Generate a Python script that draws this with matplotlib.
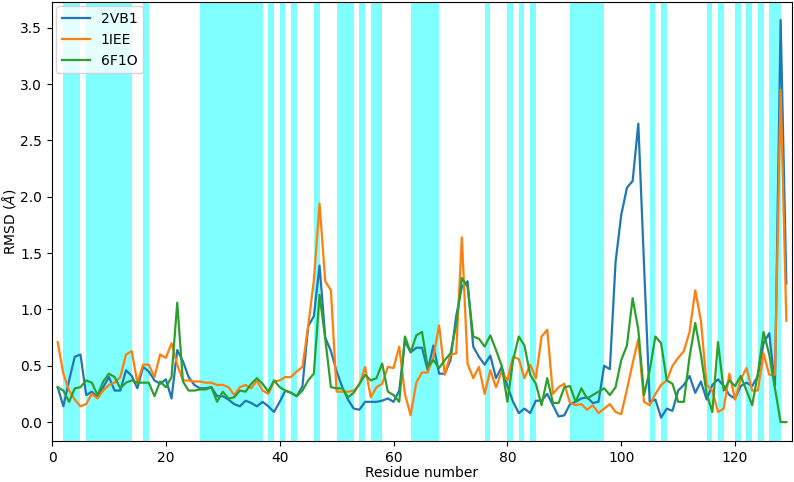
import numpy as np
import matplotlib
matplotlib.use('Agg')
import matplotlib.pyplot as plt

# RMSD per residue
residues = np.arange(1, 130)

rmsd_2vb1 = [0.31, 0.14, 0.37, 0.58, 0.60, 0.24, 0.27, 0.22, 0.31, 0.40,
             0.28, 0.28, 0.46, 0.41, 0.30, 0.49, 0.45, 0.37, 0.34, 0.38,
             0.21, 0.64, 0.54, 0.40, 0.33, 0.30, 0.30, 0.31, 0.23, 0.23,
             0.20, 0.16, 0.14, 0.19, 0.17, 0.14, 0.18, 0.14, 0.09, 0.18,
             0.28, 0.26, 0.23, 0.32, 0.85, 0.94, 1.39, 0.75, 0.63, 0.45,
             0.31, 0.20, 0.12, 0.11, 0.18, 0.18, 0.18, 0.19, 0.21, 0.18,
             0.28, 0.72, 0.62, 0.66, 0.66, 0.46, 0.68, 0.43, 0.43, 0.55,
             0.94, 1.20, 1.25, 0.67, 0.58, 0.51, 0.59, 0.39, 0.49, 0.32,
             0.18, 0.08, 0.12, 0.08, 0.19, 0.19, 0.25, 0.15, 0.05, 0.06,
             0.16, 0.18, 0.21, 0.22, 0.17, 0.18, 0.50, 0.47, 1.42, 1.84,
             2.08, 2.14, 2.65, 1.40, 0.18, 0.20, 0.04, 0.12, 0.10, 0.28,
             0.33, 0.41, 0.26, 0.36, 0.20, 0.33, 0.38, 0.32, 0.24, 0.21,
             0.32, 0.35, 0.32, 0.41, 0.70, 0.79, 0.32, 3.57, 1.23]

rmsd_1iee = [0.71, 0.43, 0.28, 0.20, 0.14, 0.16, 0.25, 0.21, 0.28, 0.33,
             0.35, 0.40, 0.60, 0.63, 0.35, 0.51, 0.51, 0.40, 0.60, 0.57,
             0.70, 0.51, 0.37, 0.37, 0.36, 0.36, 0.35, 0.35, 0.33, 0.33,
             0.31, 0.24, 0.31, 0.33, 0.30, 0.37, 0.28, 0.25, 0.36, 0.37,
             0.40, 0.40, 0.45, 0.49, 0.85, 1.26, 1.94, 1.25, 1.17, 0.27,
             0.27, 0.27, 0.28, 0.33, 0.49, 0.22, 0.31, 0.34, 0.49, 0.48,
             0.67, 0.25, 0.06, 0.35, 0.44, 0.44, 0.58, 0.86, 0.42, 0.60,
             0.61, 1.64, 0.52, 0.39, 0.49, 0.25, 0.46, 0.31, 0.45, 0.37,
             0.58, 0.56, 0.39, 0.51, 0.39, 0.76, 0.82, 0.25, 0.31, 0.34,
             0.17, 0.15, 0.16, 0.11, 0.15, 0.08, 0.12, 0.16, 0.09, 0.07,
             0.29, 0.52, 0.74, 0.18, 0.15, 0.25, 0.33, 0.37, 0.50, 0.57,
             0.63, 0.80, 1.17, 0.90, 0.33, 0.28, 0.09, 0.12, 0.43, 0.20,
             0.38, 0.48, 0.28, 0.28, 0.61, 0.42, 0.42, 2.95, 0.90]

rmsd_6f1o = [0.31, 0.28, 0.18, 0.30, 0.31, 0.37, 0.35, 0.24, 0.36, 0.43,
             0.40, 0.30, 0.35, 0.37, 0.35, 0.35, 0.35, 0.23, 0.36, 0.31,
             0.40, 1.06, 0.36, 0.28, 0.28, 0.29, 0.29, 0.31, 0.18, 0.27,
             0.21, 0.22, 0.28, 0.27, 0.34, 0.39, 0.34, 0.27, 0.37, 0.31,
             0.28, 0.26, 0.23, 0.28, 0.37, 0.43, 1.13, 0.74, 0.31, 0.30,
             0.30, 0.22, 0.26, 0.34, 0.42, 0.37, 0.39, 0.52, 0.27, 0.24,
             0.18, 0.76, 0.62, 0.77, 0.80, 0.49, 0.55, 0.48, 0.55, 0.61,
             0.86, 1.28, 1.20, 0.76, 0.74, 0.67, 0.77, 0.64, 0.50, 0.18,
             0.55, 0.76, 0.68, 0.42, 0.34, 0.15, 0.39, 0.17, 0.17, 0.31,
             0.32, 0.18, 0.30, 0.21, 0.24, 0.27, 0.30, 0.24, 0.31, 0.55,
             0.68, 1.10, 0.82, 0.24, 0.46, 0.76, 0.70, 0.37, 0.34, 0.18,
             0.18, 0.58, 0.88, 0.60, 0.25, 0.09, 0.71, 0.28, 0.37, 0.32,
             0.41, 0.28, 0.15, 0.43, 0.80, 0.60, 0.30, 0.00, 0.00]

# highlighted residue ranges
span_start = [2, 6, 16, 26, 38, 40, 42, 46, 50, 54, 56, 63, 76, 80, 82, 84,
              91, 105, 107, 115, 117, 120, 122, 124, 126]
span_end = [5, 14, 17, 37, 39, 41, 43, 47, 53, 55, 58, 68, 77, 81, 83, 85,
            97, 106, 108, 116, 118, 121, 123, 125, 128]

fig = plt.figure(figsize=(7.94, 4.82), dpi=100)
ax = fig.add_axes([0.0655, 0.085, 0.932, 0.911])

for s, e in zip(span_start, span_end):
    ax.axvspan(s, e, color='cyan', alpha=0.5, lw=0)

ax.plot(residues, rmsd_2vb1, label='2VB1', lw=1.6)
ax.plot(residues, rmsd_1iee, label='1IEE', lw=1.6)
ax.plot(residues, rmsd_6f1o, label='6F1O', lw=1.6)

ax.set_xlim(0, 130)
ax.set_ylim(-0.168, 3.73)
ax.set_xlabel('Residue number', labelpad=1)
ax.set_ylabel(r'RMSD ($\AA$)', labelpad=2)
ax.legend(loc='upper left', borderaxespad=0.3)

plt.savefig('out.png', dpi=100)
